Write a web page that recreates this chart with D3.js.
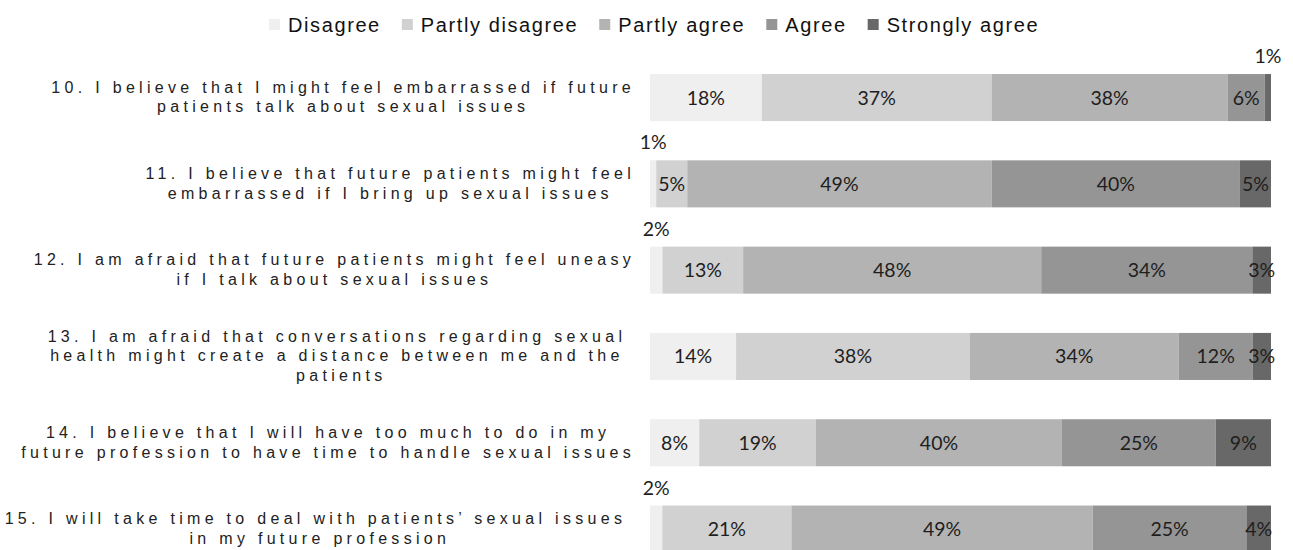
<!DOCTYPE html>
<html>
<head>
<meta charset="utf-8">
<script src="https://cdn.jsdelivr.net/npm/d3@7"></script>
<style>
  html, body { margin: 0; padding: 0; background: #fff; }
  svg { display: block; }
</style>
</head>
<body>
<svg id="chart" width="1293" height="550"></svg>
<script>
// ---- data ----
const questions = [
  ["10. I believe that I might feel embarrassed if future", "patients talk about sexual issues"],
  ["11. I believe that future patients might feel", "embarrassed if I bring up sexual issues"],
  ["12. I am afraid that future patients might feel uneasy", "if I talk about sexual issues"],
  ["13. I am afraid that conversations regarding sexual ", "health might create a distance between me and the ", "patients"],
  ["14. I believe that I will have too much to do in my", "future profession to have time to handle sexual issues"],
  ["15. I will take time to deal with patients\u2019 sexual issues ", "in my future profession"]
];
const seriesNames = ["Disagree", "Partly disagree", "Partly agree", "Agree", "Strongly agree"];
const disagree       = [18, 1, 2, 14, 8, 2];
const partlyDisagree = [37, 5, 13, 38, 19, 21];
const partlyAgree    = [38, 49, 48, 34, 40, 49];
const agree          = [6, 40, 34, 12, 25, 25];
const stronglyAgree  = [1, 5, 3, 3, 9, 4];
const colors = ["#efefef", "#d1d1d1", "#b3b3b3", "#959595", "#686868"];

// ---- build table ----
const valuesBySeries = [disagree, partlyDisagree, partlyAgree, agree, stronglyAgree];
const rows = questions.map((q, i) => {
  const r = { id: i, lines: q };
  seriesNames.forEach((s, j) => { r[s] = valuesBySeries[j][i]; });
  return r;
});

const svg = d3.select("#chart");

const x = d3.scaleLinear().domain([0, 1]).range([650, 1271]);
const y = d3.scaleBand().domain(rows.map(d => d.id)).range([54.4, 572.2])
  .paddingInner(0.455).paddingOuter(0.2275);
const color = d3.scaleOrdinal().domain(seriesNames).range(colors);

const stack = d3.stack().keys(seriesNames).offset(d3.stackOffsetExpand);
const stacked = stack(rows);

// bars
const groups = svg.append("g").selectAll("g").data(stacked).join("g")
  .attr("fill", d => color(d.key));
groups.selectAll("rect").data(d => d.map(p => ({ p, key: d.key }))).join("rect")
  .attr("x", d => x(d.p[0]))
  .attr("width", d => Math.max(0, x(d.p[1]) - x(d.p[0])))
  .attr("y", d => y(d.p.data.id))
  .attr("height", y.bandwidth());

// value labels
const labelFont = "Lato, 'Open Sans', sans-serif";
const lab = svg.append("g").attr("font-family", labelFont).attr("font-size", 19.5).attr("fill", "#1e1e1e")
  .attr("text-anchor", "middle");
stacked.forEach(s => {
  s.forEach(p => {
    const v = p.data[s.key];
    const cx = (x(p[0]) + x(p[1])) / 2;
    const small = v <= 2;
    lab.append("text")
      .attr("x", cx)
      .attr("y", small ? y(p.data.id) - 11 : y(p.data.id) + y.bandwidth() / 2)
      .attr("dy", small ? 0 : "0.36em")
      .text(v + "%");
  });
});

// category labels
const qg = svg.append("g").attr("font-family", "'Liberation Sans', Arial, sans-serif")
  .attr("font-size", 16).attr("fill", "#222").style("letter-spacing", "4.3px")
  .style("white-space", "pre");
const rightEdge = 635;
rows.forEach(r => {
  const cy = y(r.id) + y.bandwidth() / 2;
  const n = r.lines.length;
  const t = qg.append("text").attr("text-anchor", "middle");
  const spans = r.lines.map((ln, i) =>
    t.append("tspan").attr("y", cy + 5 + (i - (n - 1) / 2) * 19.5).text(ln));
  const w = d3.max(spans, s => s.node().getComputedTextLength());
  spans.forEach(s => s.attr("x", rightEdge - w / 2));
});

// legend
const lg = svg.append("g").attr("font-family", "'Liberation Sans', Arial, sans-serif")
  .attr("font-size", 20).attr("fill", "#111").style("letter-spacing", "1.6px");
let lx = 269;
seriesNames.forEach(s => {
  lg.append("rect").attr("x", lx).attr("y", 19).attr("width", 11).attr("height", 11).attr("fill", color(s));
  const t = lg.append("text").attr("x", lx + 19).attr("y", 31.5).text(s);
  lx += 19 + t.node().getComputedTextLength() + 21;
});
</script>
</body>
</html>
